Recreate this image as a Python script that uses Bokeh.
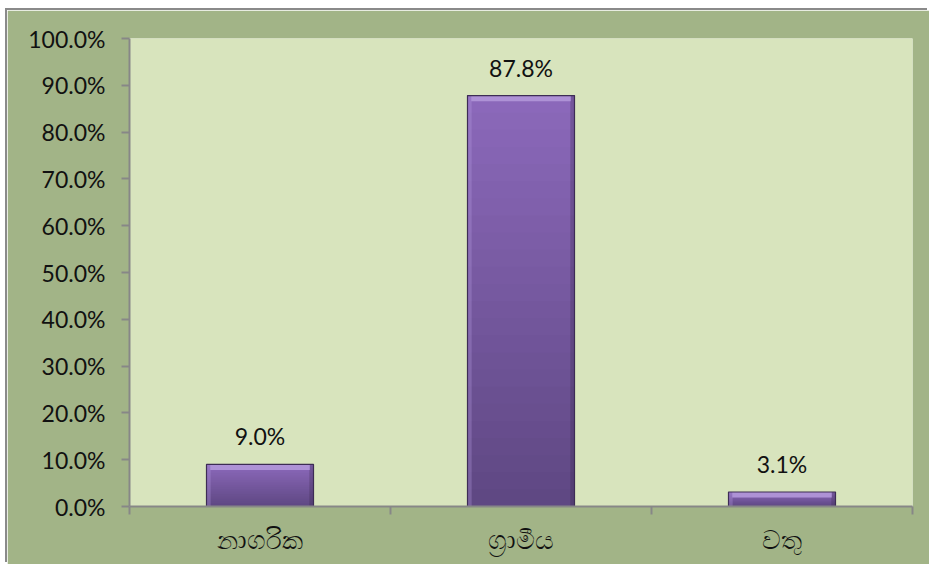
from bokeh.plotting import figure
from bokeh.models import (Range1d, LinearAxis, FixedTicker,
                          NumeralTickFormatter, ColumnDataSource, LabelSet)
from bokeh.core.properties import value
from bokeh.embed import file_html
from bokeh.resources import INLINE

categories = ["නාගරික", "ග්‍රාමීය", "වතු"]
values = [0.090, 0.878, 0.031]
value_labels = ["9.0%", "87.8%", "3.1%"]
y_ticks = [0.0, 0.1, 0.2, 0.3, 0.4, 0.5, 0.6, 0.7, 0.8, 0.9, 1.0]

FONT = "Lato"
OUTER = "#A2B487"
INNER = "#D8E4BD"
AXIS = "#878787"

n = len(categories)
centers = [i + 0.5 for i in range(n)]

p = figure(width=922, height=554, x_range=Range1d(0, n),
           y_range=Range1d(0, 1.0), output_backend="svg", toolbar_location=None,
           min_border_left=122, min_border_right=17, min_border_top=28,
           min_border_bottom=58)
p.styles = {"margin-left": "7px", "margin-top": "10px",
            "box-shadow": "-2px -2px 0 0 #8a8a8a"}
p.background_fill_color = INNER
p.border_fill_color = OUTER
p.outline_line_color = None
p.xgrid.visible = False
p.ygrid.visible = False

# x axis with tick marks at category boundaries
xa = p.xaxis[0]
bounds = list(range(n + 1))
xa.ticker = FixedTicker(ticks=bounds)
xa.major_label_overrides = {b: "" for b in bounds}
xa.major_label_standoff = 0
xa.axis_line_color = AXIS
xa.axis_line_width = 2
xa.major_tick_line_color = AXIS
xa.major_tick_line_width = 2
xa.major_tick_out = 8
xa.major_tick_in = 0
xa.minor_tick_line_color = None

# category labels at centers
cax = LinearAxis(ticker=FixedTicker(ticks=centers),
                 major_label_overrides={c: lab for c, lab in zip(centers, categories)})
cax.axis_line_color = None
cax.major_tick_line_color = None
cax.minor_tick_line_color = None
cax.major_label_text_font = FONT
cax.major_label_text_font_size = "26px"
cax.major_label_text_color = "#111111"
cax.major_label_standoff = 2
p.add_layout(cax, "below")

ya = p.yaxis[0]
ya.ticker = FixedTicker(ticks=y_ticks)
ya.formatter = NumeralTickFormatter(format="0.0%")
ya.axis_line_color = AXIS
ya.axis_line_width = 2
ya.major_tick_line_color = AXIS
ya.major_tick_line_width = 2
ya.major_tick_out = 8
ya.major_tick_in = 0
ya.minor_tick_line_color = None
ya.major_label_text_font = FONT
ya.major_label_text_font_size = "23px"
ya.major_label_text_color = "#111111"
ya.major_label_standoff = 16

# bars with a vertical gradient (per bar); overlapping layers avoid seams
N = 24
top_c = (0x8C, 0x69, 0xBB)
bot_c = (0x5E, 0x47, 0x82)
W = 0.41
for xc, v in zip(centers, values):
    xs, bots, tops, cols = [], [], [], []
    for k in range(N):
        t = (k + 0.5) / N
        c = tuple(int(round(bot_c[j] + (top_c[j] - bot_c[j]) * t)) for j in range(3))
        xs.append(xc)
        bots.append(v * k / N)
        tops.append(v)
        cols.append("#%02x%02x%02x" % c)
    p.vbar(x=xs, bottom=bots, top=tops, width=W, fill_color=cols, line_color=None)

EDGE = 0.016
src = ColumnDataSource(dict(x=centers, val=values, lab=value_labels,
                            hl_bot=[max(v - 0.012, 0) for v in values],
                            xl=[c - W / 2 + EDGE / 2 for c in centers],
                            xr=[c + W / 2 - EDGE / 2 for c in centers]))
# side bevels
p.vbar(x="xl", top="val", width=EDGE, source=src, fill_color="#B79BE0",
       fill_alpha=0.3, line_color=None)
p.vbar(x="xr", top="val", width=EDGE, source=src, fill_color="#2E2140",
       fill_alpha=0.25, line_color=None)
# top bevel highlight
p.vbar(x="x", bottom="hl_bot", top="val", width=W * 0.93, source=src,
       fill_color="#AE92D6", line_color=None)
# outline
p.vbar(x="x", top="val", width=W, source=src, fill_color=None,
       line_color="#3D2C55", line_width=1.2)

labels = LabelSet(x="x", y="val", text="lab", source=src,
                  text_align="center", text_baseline="alphabetic", y_offset=19,
                  text_font=value("Lato"), text_font_size=value("23px"),
                  text_color="#111111")
p.add_layout(labels)

open("out.html", "w").write(file_html(p, INLINE))
